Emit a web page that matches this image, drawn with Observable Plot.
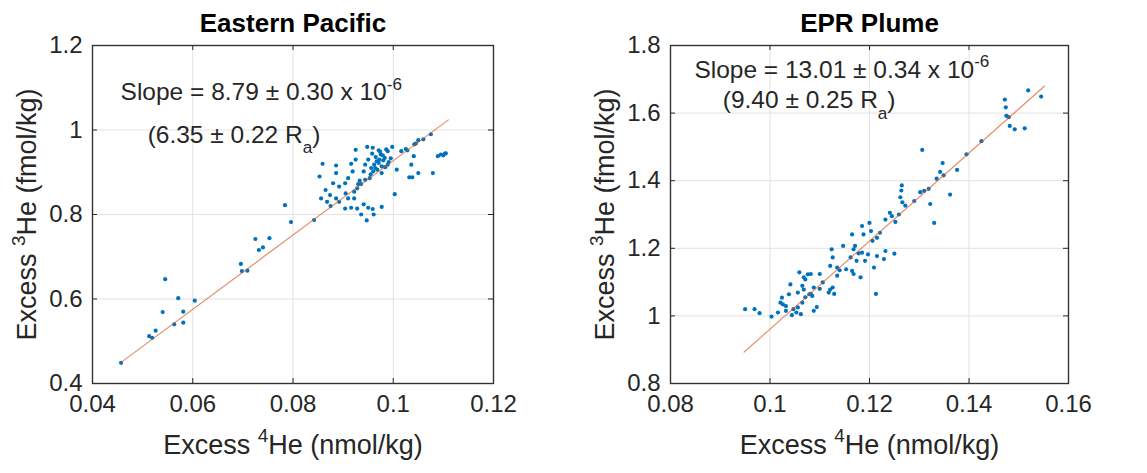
<!DOCTYPE html>
<html><head><meta charset="utf-8">
<script src="https://cdn.jsdelivr.net/npm/d3@7"></script>
<script src="https://cdn.jsdelivr.net/npm/@observablehq/plot@0.6"></script>
<style>
html,body{margin:0;padding:0;background:#fff;}
#wrap{display:flex;width:1147px;height:473px;overflow:hidden;}
</style></head><body><div id="wrap"></div>
<script>
// ---------- Eastern Pacific ----------
const epTitle = "Eastern Pacific";
const epXTicks = [0.04, 0.06, 0.08, 0.1, 0.12];
const epXTickLabels = ["0.04", "0.06", "0.08", "0.1", "0.12"];
const epYTicks = [0.4, 0.6, 0.8, 1, 1.2];
const epYTickLabels = ["0.4", "0.6", "0.8", "1", "1.2"];
const epX = [0.0457,0.0513,0.0519,0.0526,0.0545,0.0540,0.0563,0.0571,0.0581,0.0581,0.0604,
  0.0696,0.0698,0.0709,0.0725,0.0732,0.0740,0.0753,0.0784,0.0796,0.0842,
  0.0948,0.0959,0.0925,0.0998,0.0975,0.0983,0.0995,0.0965,0.0971,0.0977,0.0962,0.0968,0.0977,0.0989,0.1007,
  0.1016,0.1028,0.1042,0.1050,0.1041,0.1036,0.1050,0.1032,0.1038,0.1079,0.1089,0.1103,0.1003,
  0.0925,0.0916,0.0919,0.0941,0.0933,0.0928,0.0922,0.0922,0.0910,0.0916,0.0928,0.0941,0.0950,0.0959,0.0977,
  0.0961,0.0947,0.0936,0.0904,0.0892,0.0886,0.0874,0.0865,0.0856,0.0868,0.0853,0.0859,0.0886,0.0886,
  0.0880,0.0892,0.0904,0.0910,0.0944,0.0936,0.0953,0.0956,0.0944,0.0971,0.0989,0.0980,
  0.0986,0.0972,0.0964,0.0960,0.0950,
  0.0875,0.0905,0.0930,0.0955,0.1025,0.1045,0.1060,0.1075,0.1095,0.1100,0.1105,
  0.0967,0.0979,0.0991,0.0958,0.0984,0.0974];
const epY = [0.449,0.512,0.508,0.525,0.647,0.569,0.540,0.602,0.570,0.544,0.596,
  0.683,0.666,0.667,0.742,0.716,0.722,0.744,0.822,0.782,0.787,
  0.960,0.958,0.953,0.960,0.942,0.934,0.933,0.936,0.922,0.914,0.918,0.906,0.898,0.918,0.906,
  0.950,0.952,0.966,0.976,0.938,0.918,0.898,0.888,0.888,0.898,0.938,0.944,0.848,
  0.930,0.920,0.902,0.902,0.880,0.862,0.854,0.838,0.838,0.816,0.814,0.824,0.816,0.813,0.818,
  0.800,0.786,0.800,0.814,0.830,0.838,0.846,0.858,0.838,0.830,0.890,0.920,0.916,0.898,
  0.874,0.866,0.874,0.886,0.882,0.872,0.886,0.910,0.918,0.952,0.950,0.928,
  0.954,0.930,0.910,0.902,0.930,
  0.820,0.850,0.872,0.895,0.955,0.968,0.978,0.990,0.942,0.940,0.945,
  0.926,0.940,0.924,0.944,0.912,0.948];
const epFitX = [0.0457, 0.1110];
const epFitY = [0.450, 1.024];

// ---------- EPR Plume ----------
const eprTitle = "EPR Plume";
const eprXTicks = [0.08, 0.1, 0.12, 0.14, 0.16];
const eprXTickLabels = ["0.08", "0.1", "0.12", "0.14", "0.16"];
const eprYTicks = [0.8, 1, 1.2, 1.4, 1.6, 1.8];
const eprYTickLabels = ["0.8", "1", "1.2", "1.4", "1.6", "1.8"];
const eprX = [0.1306,0.1472,0.1474,0.1475,0.1482,0.1492,0.1512,0.1519,0.1545,0.1425,0.1347,0.1342,0.1349,0.1376,
  0.1335,0.1362,0.1322,0.1330,0.1319,0.1302,0.1265,0.1264,0.1262,0.1266,0.1272,0.1245,0.1252,0.1259,0.1232,0.1241,
  0.1221,0.1200,0.1203,0.1185,0.1188,0.1165,0.1215,0.1206,0.1171,0.1168,0.1147,0.1124,0.1126,0.1162,0.1174,0.1185,
  0.1197,0.1191,0.1215,0.1232,0.1229,0.1250,0.1209,0.1182,0.1213,0.1165,0.1168,0.1153,0.1135,0.1121,0.1135,0.1126,
  0.1129,0.1100,0.1106,0.1088,0.1082,0.1068,0.1065,0.1082,0.1094,0.1071,
  0.0950,0.0969,0.0979,0.1003,0.1016,0.1024,0.1021,0.1026,0.1032,0.1038,0.1041,0.1059,0.1056,0.1053,0.1056,0.1047,
  0.1065,0.1068,0.1071,0.1076,0.1079,0.1088,0.1085,0.1118,0.1121,0.1032,0.1044,0.1062,
  0.1100,0.1140,0.1178,0.1290,0.1310,0.1395,0.1480];
const eprY = [1.491,1.640,1.617,1.592,1.562,1.552,1.555,1.667,1.649,1.517,1.452,1.426,1.416,1.432,
  1.406,1.359,1.331,1.275,1.376,1.366,1.386,1.371,1.351,1.336,1.326,1.295,1.278,1.300,1.285,1.305,
  1.246,1.275,1.251,1.266,1.241,1.241,1.231,1.222,1.207,1.197,1.207,1.197,1.173,1.173,1.163,1.187,
  1.182,1.163,1.177,1.192,1.168,1.184,1.143,1.114,1.065,1.133,1.124,1.138,1.143,1.148,1.119,1.084,
  1.065,1.124,1.099,1.084,1.124,1.114,1.089,1.065,1.026,1.055,
  1.020,1.020,1.008,0.998,1.010,1.054,1.039,1.034,1.029,1.064,1.093,1.129,1.069,1.010,1.025,1.020,
  1.039,1.078,1.108,1.123,1.064,1.015,1.059,1.069,1.078,1.015,1.002,1.005,
  1.080,1.135,1.185,1.340,1.370,1.478,1.588];
const eprFitX = [0.0948, 0.1552];
const eprFitY = [0.893, 1.680];

const xLabel = "Excess ^{4}He (nmol/kg)";
const yLabel = "Excess ^{3}He (fmol/kg)";
const epAnn = ["Slope = 8.79 ± 0.30 x 10^{-6}", "(6.35 ± 0.22 R_{a})"];
const eprAnn = ["Slope = 13.01 ± 0.34 x 10^{-6}", "(9.40 ± 0.25 R_{a})"];

const NS = "http://www.w3.org/2000/svg";
function richify(svg) {
  svg.querySelectorAll("text").forEach(t => {
    const s = t.textContent;
    if (!/[\^_]\{/.test(s)) return;
    const fs = parseFloat(getComputedStyle(t).fontSize) || 20;
    while (t.firstChild) t.removeChild(t.firstChild);
    let cur = 0;
    const add = (str, target, small) => {
      const ts = document.createElementNS(NS, "tspan");
      ts.textContent = str;
      const dy = target - cur;
      if (dy) ts.setAttribute("dy", dy.toFixed(2));
      if (small) ts.setAttribute("font-size", (fs * 0.7).toFixed(1));
      cur = target;
      t.appendChild(ts);
    };
    const re = /([\^_])\{([^}]*)\}/g;
    let last = 0, m;
    while ((m = re.exec(s))) {
      if (m.index > last) add(s.slice(last, m.index), 0, false);
      add(m[2], m[1] === "^" ? -0.42 * fs : 0.42 * fs, true);
      last = re.lastIndex;
    }
    if (last < s.length) add(s.slice(last), 0, false);
  });
}

function panel(c) {
  const H = 473, mt = 45, mb = 90;
  const ih = H - mt - mb, iw = c.width - c.ml - c.mr;
  const pts = c.px.map((x, i) => ({x, y: c.py[i]}));
  const fit = c.fx.map((x, i) => ({x, y: c.fy[i]}));
  const xt = c.xTicks.map((v, i) => ({v, s: c.xLabels[i]}));
  const yt = c.yTicks.map((v, i) => ({v, s: c.yLabels[i]}));
  const ink = "#262626";
  return Plot.plot({
    width: c.width, height: H,
    marginTop: mt, marginBottom: mb, marginLeft: c.ml, marginRight: c.mr,
    x: {domain: [c.xTicks[0], c.xTicks[c.xTicks.length - 1]], axis: null},
    y: {domain: [c.yTicks[0], c.yTicks[c.yTicks.length - 1]], axis: null},
    style: {fontFamily: "'Liberation Sans', Arial, Helvetica, sans-serif", background: "#fff", overflow: "visible"},
    marks: [
      Plot.ruleX(xt, {x: "v", stroke: "#e2e2e2", strokeWidth: 1}),
      Plot.ruleY(yt, {y: "v", stroke: "#e2e2e2", strokeWidth: 1}),
      Plot.dot(pts, {x: "x", y: "y", r: 2.1, fill: "#0072BD", stroke: null}),
      Plot.line(fit, {x: "x", y: "y", stroke: "#D95319", strokeWidth: 1.2, strokeOpacity: 0.65}),
      Plot.tickX(xt, {x: "v", insetTop: ih - 5, stroke: ink}),
      Plot.tickX(xt, {x: "v", insetBottom: ih - 5, stroke: ink}),
      Plot.tickY(yt, {y: "v", insetRight: iw - 5, stroke: ink}),
      Plot.tickY(yt, {y: "v", insetLeft: iw - 5, stroke: ink}),
      Plot.frame({stroke: "#333", strokeWidth: 1.4}),
      Plot.text(xt, {x: "v", text: "s", frameAnchor: "bottom", dy: 28, fontSize: 24, fill: ink}),
      Plot.text(yt, {y: "v", text: "s", frameAnchor: "left", textAnchor: "end", dx: -10, fontSize: 24, fill: ink}),
      Plot.text([xLabel], {text: d => d, frameAnchor: "bottom", dy: 70, fontSize: 27, fill: ink}),
      Plot.text([yLabel], {text: d => d, frameAnchor: "left", textAnchor: "middle", rotate: -90, dx: -65, fontSize: 27, fill: ink}),
      Plot.text([c.title], {text: d => d, frameAnchor: "top", lineAnchor: "bottom", dy: -14, fontSize: 26, fontWeight: "bold", fill: "#000"}),
      Plot.text(c.ann, {x: "x", y: "y", text: "t", textAnchor: "start", lineAnchor: "bottom", fontSize: 24.5, fill: ink})
    ]
  });
}

const wrap = document.getElementById("wrap");
const left = panel({
  width: 570, ml: 92, mr: 77,
  xTicks: epXTicks, xLabels: epXTickLabels, yTicks: epYTicks, yLabels: epYTickLabels,
  px: epX, py: epY, fx: epFitX, fy: epFitY, title: epTitle,
  ann: [{x: 0.0456, y: 1.070, t: epAnn[0]}, {x: 0.0510, y: 0.970, t: epAnn[1]}]
});
const right = panel({
  width: 577, ml: 100, mr: 79,
  xTicks: eprXTicks, xLabels: eprXTickLabels, yTicks: eprYTicks, yLabels: eprYTickLabels,
  px: eprX, py: eprY, fx: eprFitX, fy: eprFitY, title: eprTitle,
  ann: [{x: 0.0848, y: 1.705, t: eprAnn[0]}, {x: 0.0905, y: 1.614, t: eprAnn[1]}]
});
wrap.appendChild(left);
wrap.appendChild(right);
richify(left);
richify(right);
</script>
</body></html>
